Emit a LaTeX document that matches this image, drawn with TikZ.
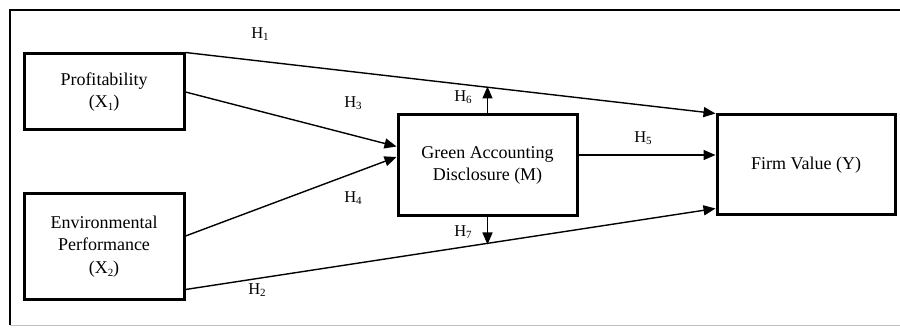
\documentclass[tikz,border=0pt]{standalone}
\usepackage{fontspec}
\setmainfont{Liberation Serif}
\usetikzlibrary{arrows.meta,calc}
\newcommand\idx[1]{\raisebox{-0.35ex}{\fontsize{11}{11}\selectfont #1}}
\tikzset{
  varbox/.style={draw, line width=3pt, align=center, inner sep=0pt,
    font=\fontsize{18}{22.5}\selectfont},
  path/.style={line width=1.4pt, -{Triangle[length=12pt,width=10pt]}},
  hyp/.style={font=\fontsize{16.5}{18}\selectfont, inner sep=0pt}
}
\begin{document}
\begin{tikzpicture}[x=1pt,y=1pt]
\useasboundingbox (0,0) rectangle (900,327);
% frame
\draw[line width=1.5pt] (900,317) -- (10,317) -- (10,2);
\draw[line width=1pt, black!25] (10,2) -- (900,2);
% variables
\node[varbox, minimum width=160pt, minimum height=76pt] (prof) at (104,235)
  {Profitability\\(X\idx{1})};
\node[varbox, minimum width=160pt, minimum height=105pt] (env) at (104,80.5)
  {Environmental\\Performance\\(X\idx{2})};
\node[varbox, minimum width=179pt, minimum height=101pt] (green) at (487.5,161.5)
  {Green Accounting\\Disclosure (M)};
\node[varbox, minimum width=178pt, minimum height=100pt] (firm) at (806,162)
  {Firm Value (Y)};
% hypothesised paths
\draw[path] (prof.north east) -- (firm.north west);
\draw[path] (prof.east) -- ([yshift=19pt]green.west);
\draw[path] ([yshift=10.5pt]env.east) -- ([yshift=8.5pt]green.west);
\draw[path] ([yshift=11pt]env.south east) -- ([yshift=8pt]firm.south west);
\draw[path] ([yshift=10.5pt]green.east) -- ([yshift=10pt]firm.west);
\coordinate (up) at ([yshift=27pt]green.north);
\coordinate (down) at ([yshift=-27pt]green.south);
\draw[path] (green.north) -- (up);
\draw[path] (green.south) -- (down);
% labels
\node[hyp] (h1) at (260,293) {H\idx{1}};
\node[hyp] (h3) at (353,224) {H\idx{3}};
\node[hyp] (h4) at (353,129) {H\idx{4}};
\node[hyp] (h2) at (257,37) {H\idx{2}};
\node[hyp] (h6) at (463,230) {H\idx{6}};
\node[hyp] (h7) at (463,95) {H\idx{7}};
\node[hyp] (h5) at (643,189) {H\idx{5}};
\end{tikzpicture}
\end{document}
